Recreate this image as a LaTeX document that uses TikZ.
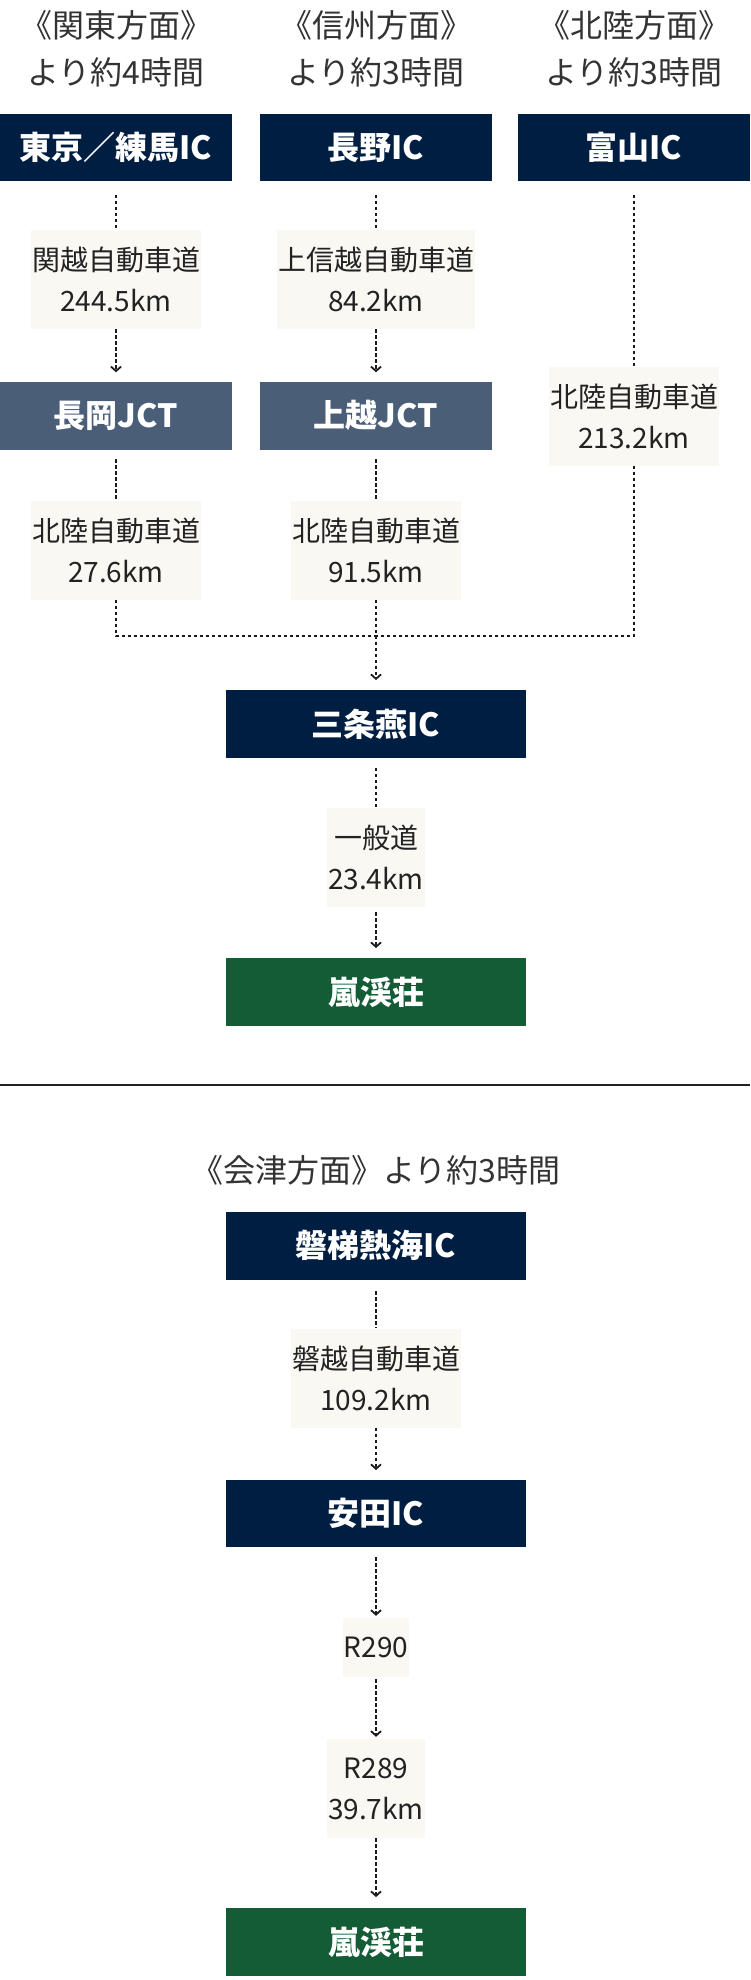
\documentclass[tikz,border=0pt]{standalone}
\usepackage{fontspec}
\setmainfont{Noto Sans CJK JP}
\usetikzlibrary{arrows.meta}
\definecolor{navy}{HTML}{001E42}
\definecolor{slate}{HTML}{4B5E78}
\definecolor{forest}{HTML}{145C36}
\definecolor{labelbg}{HTML}{F9F8F3}
\definecolor{ink}{HTML}{222222}
\definecolor{lineink}{HTML}{1A1A1A}
\definecolor{titleink}{HTML}{333333}
\begin{document}
\begin{tikzpicture}[x=1pt,y=-1pt,
 box/.style={fill=navy, text=white, font=\fontsize{32}{38}\selectfont\bfseries, inner sep=0pt, minimum height=67.5pt},
 jct/.style={box, fill=slate},
 dest/.style={box, fill=forest},
 lbl/.style={fill=labelbg, text=ink, font=\fontsize{28}{41}\selectfont, inner xsep=1pt, inner ysep=0pt, align=center, minimum height=99pt},
 lblone/.style={lbl, minimum height=59pt},
 ttl/.style={text=titleink, font=\fontsize{32}{47}\selectfont, align=center, inner sep=0pt},
 dline/.style={draw=lineink, line width=2pt, dash pattern=on 3.5pt off 2.5pt},
 arr/.style={dline, -{Straight Barb[length=4.5pt,width=10pt,line width=1.8pt]}}
]
\useasboundingbox (0,0) rectangle (750,1980);

% titles
\node[ttl] (t1) at (116,48.5) {《関東方面》\\より約4時間};
\node[ttl] (t2) at (376,48.5) {《信州方面》\\より約3時間};
\node[ttl] (t3) at (634,48.5) {《北陸方面》\\より約3時間};

% top boxes
\node[box, minimum width=232pt] (tokyo) at (116,147.75) {東京／練馬IC};
\node[box, minimum width=232pt] (nagano) at (376,147.75) {長野IC};
\node[box, minimum width=232pt] (toyama) at (634,147.75) {富山IC};

% labels row 1
\node[lbl] (l1) at (116,279.5) {関越自動車道\\244.5km};
\node[lbl] (l2) at (376,279.5) {上信越自動車道\\84.2km};
\node[lbl] (l3) at (634,416) {北陸自動車道\\213.2km};

% JCT
\node[jct, minimum width=232pt] (nagaoka) at (116,415.75) {長岡JCT};
\node[jct, minimum width=232pt] (joetsu) at (376,415.75) {上越JCT};

% labels row 2
\node[lbl] (l4) at (116,550) {北陸自動車道\\27.6km};
\node[lbl] (l5) at (376,550) {北陸自動車道\\91.5km};

\coordinate (j) at (376,636);

% Sanjo
\node[box, minimum width=300pt] (sanjo) at (376,724) {三条燕IC};
\node[lbl] (l6) at (376,857.75) {一般道\\23.4km};
\node[dest, minimum width=300pt] (dest1) at (376,992) {嵐渓荘};

% connectors upper part
\draw[dline, shorten <=13pt] (tokyo) -- (l1);
\draw[arr, shorten >=9.5pt] (l1) -- (nagaoka);
\draw[dline, shorten <=13pt] (nagano) -- (l2);
\draw[arr, shorten >=9.5pt] (l2) -- (joetsu);
\draw[dline, shorten <=13pt] (toyama) -- (l3);
\draw[dline, shorten <=9.5pt] (nagaoka) -- (l4);
\draw[dline, shorten <=9.5pt] (joetsu) -- (l5);
\draw[dline] (l4) |- (j);
\draw[dline] (l3) |- (j);
\draw[arr, shorten >=10pt] (l5) -- (sanjo);
\draw[dline, shorten <=10pt] (sanjo) -- (l6);
\draw[arr, shorten <=5pt, shorten >=10pt] (l6) -- (dest1);

% divider
\draw[draw=ink, line width=2pt] (0,1085) -- (750,1085);

% lower part
\node[ttl] (t4) at (376,1170) {《会津方面》より約3時間};
\node[box, minimum width=300pt] (bandai) at (376,1245.75) {磐梯熱海IC};
\node[lbl] (l7) at (376,1378) {磐越自動車道\\109.2km};
\node[box, minimum width=300pt] (yasuda) at (376,1513.5) {安田IC};
\node[lblone] (l8) at (376,1647.5) {R290};
\node[lbl] (l9) at (376,1788.5) {R289\\39.7km};
\node[dest, minimum width=300pt] (dest2) at (376,1942) {嵐渓荘};

\draw[dline, shorten <=11.5pt] (bandai) -- (l7);
\draw[arr, shorten >=9.5pt] (l7) -- (yasuda);
\draw[arr, shorten <=10pt, shorten >=2pt] (yasuda) -- (l8);
\draw[arr, shorten <=2pt, shorten >=2pt] (l8) -- (l9);
\draw[arr, shorten >=11pt] (l9) -- (dest2);
\end{tikzpicture}
\end{document}
